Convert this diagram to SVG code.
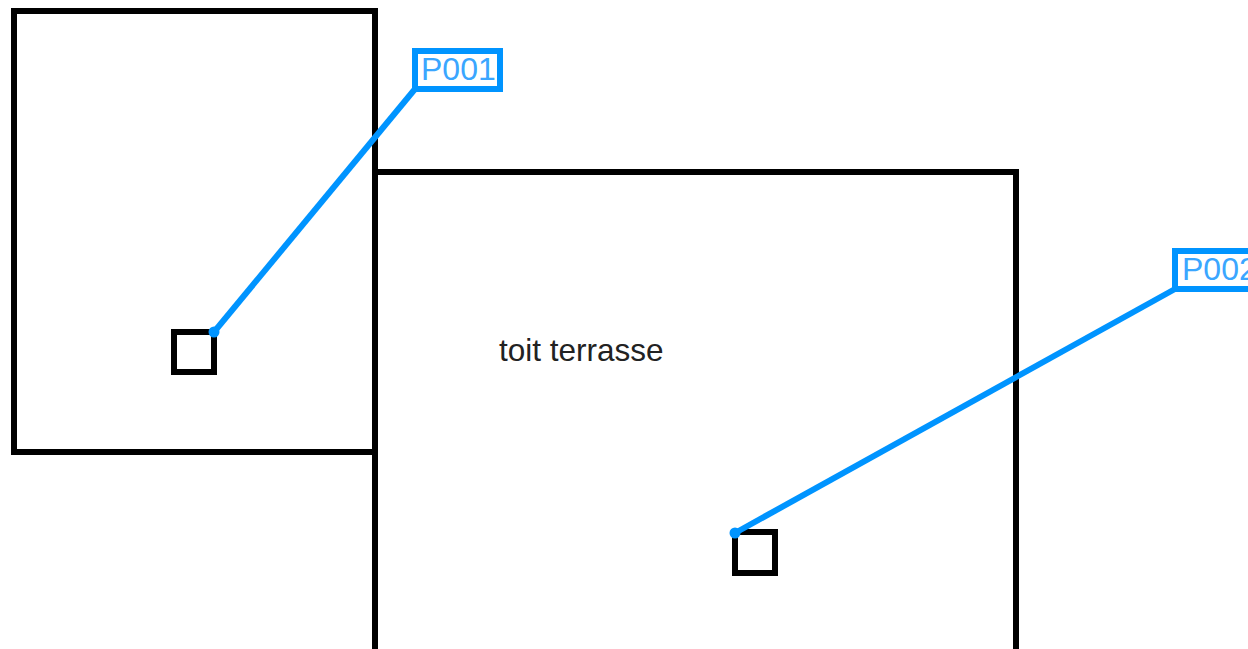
<svg xmlns="http://www.w3.org/2000/svg" width="1248" height="649" viewBox="0 0 1248 649">
<style>
.room{fill:none;stroke:#000;stroke-width:6}
.tag{fill:#fff;stroke:#0094ff;stroke-width:6}
.lead{fill:none;stroke:#0094ff;stroke-width:6}
.dot{fill:#0094ff}
text{font-family:"Liberation Sans",Arial,sans-serif;font-size:32px}
.tl{fill:#3aa6ff}
</style>
<rect width="1248" height="649" fill="#fff"/>
<g id="room-1"><path class="room" d="M375 452H14V11H375V172"/></g>
<g id="room-2"><path class="room" d="M375 652V172H1016V652"/><text x="499" y="361" fill="#222" style="font-size:31.500px">toit terrasse</text></g>
<g id="box-1"><rect class="room" x="174" y="332" width="40" height="40"/></g>
<g id="box-2"><rect class="room" x="735" y="532" width="40" height="41"/></g>
<g id="connectors">
<path class="lead" d="M214 332L415 89"/>
<path class="lead" d="M735 533L1175 289"/>
<circle class="dot" cx="214" cy="332" r="5.500"/>
<circle class="dot" cx="735" cy="533" r="5.500"/>
</g>
<g id="P001"><rect class="tag" x="415" y="51" width="85" height="38"/><text class="tl" x="421" y="80">P001</text></g>
<g id="P002"><rect class="tag" x="1175" y="251" width="85" height="38"/><text class="tl" x="1182" y="280">P002</text></g>
</svg>
